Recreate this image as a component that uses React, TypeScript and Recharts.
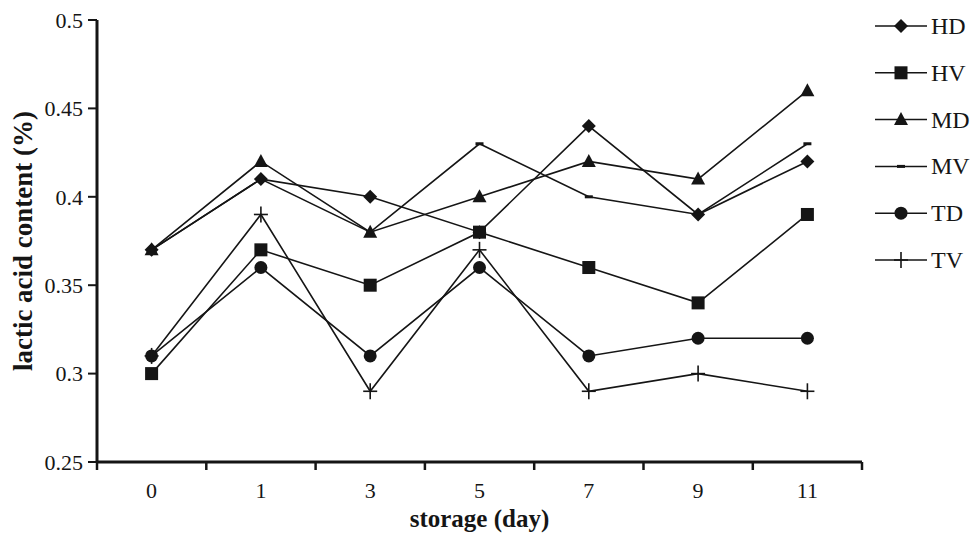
import { LineChart, Line, XAxis, YAxis, Legend } from "recharts";

const days = ["0", "1", "3", "5", "7", "9", "11"];
const hd = [0.37, 0.41, 0.4, 0.38, 0.44, 0.39, 0.42];
const hv = [0.3, 0.37, 0.35, 0.38, 0.36, 0.34, 0.39];
const md = [0.37, 0.42, 0.38, 0.4, 0.42, 0.41, 0.46];
const mv = [0.37, 0.41, 0.38, 0.43, 0.4, 0.39, 0.43];
const td = [0.31, 0.36, 0.31, 0.36, 0.31, 0.32, 0.32];
const tv = [0.31, 0.39, 0.29, 0.37, 0.29, 0.3, 0.29];
const yTicks = [0.25, 0.3, 0.35, 0.4, 0.45, 0.5];

const series = [
  { key: "HD", values: hd, shape: "diamond" },
  { key: "HV", values: hv, shape: "square" },
  { key: "MD", values: md, shape: "triangle" },
  { key: "MV", values: mv, shape: "dash" },
  { key: "TD", values: td, shape: "circle" },
  { key: "TV", values: tv, shape: "plus" },
];

const data = days.map((day, i) => {
  const row: Record<string, string | number> = { day };
  series.forEach((s) => (row[s.key] = s.values[i]));
  return row;
});

const INK = "#151515";
const FONT = "'Liberation Serif', 'Times New Roman', serif";
const PAD = 54.6; // half of a category slot

function Marker({ shape, cx, cy }: { shape: string; cx: number; cy: number }) {
  switch (shape) {
    case "diamond":
      return <polygon points={`${cx},${cy - 7} ${cx + 7},${cy} ${cx},${cy + 7} ${cx - 7},${cy}`} fill={INK} />;
    case "square":
      return <rect x={cx - 6.5} y={cy - 6.5} width={13} height={13} fill={INK} />;
    case "triangle":
      return <polygon points={`${cx},${cy - 7.5} ${cx + 7},${cy + 5.5} ${cx - 7},${cy + 5.5}`} fill={INK} />;
    case "dash":
      return <rect x={cx - 4} y={cy - 1.5} width={8} height={3} fill={INK} />;
    case "circle":
      return <circle cx={cx} cy={cy} r={6.5} fill={INK} />;
    default:
      return (
        <g stroke={INK} strokeWidth={1.6}>
          <line x1={cx - 7} x2={cx + 7} y1={cy} y2={cy} />
          <line x1={cx} x2={cx} y1={cy - 8} y2={cy + 8} />
        </g>
      );
  }
}

function DayTick(props: any) {
  const { x, y, payload, index } = props;
  const last = index === days.length - 1;
  return (
    <g>
      <line x1={x - PAD} x2={x - PAD} y1={y} y2={y + 8} stroke={INK} strokeWidth={2.5} />
      {last && <line x1={x + PAD} x2={x + PAD} y1={y} y2={y + 8} stroke={INK} strokeWidth={2.5} />}
      <text x={x} y={y + 36} textAnchor="middle" fontSize={22} fontFamily={FONT} fill={INK}>
        {payload.value}
      </text>
    </g>
  );
}

function LegendBox() {
  return (
    <svg width={103} height={290}>
      {series.map((s, i) => {
        const cy = 26 + i * 46.8;
        return (
          <g key={s.key}>
            <line x1={5} x2={57} y1={cy} y2={cy} stroke={INK} strokeWidth={1.5} />
            <Marker shape={s.shape} cx={31} cy={cy} />
            <text x={61} y={cy + 8} fontSize={24} fontFamily={FONT} fill={INK}>
              {s.key}
            </text>
          </g>
        );
      })}
    </svg>
  );
}

export default function App() {
  return (
    <div style={{ position: "absolute", left: 0, top: 0, background: "#fff" }}>
      <LineChart width={973} height={533} data={data} margin={{ top: 20, right: 111, bottom: 0, left: 0 }}>
        <XAxis
          dataKey="day"
          height={71}
          padding={{ left: PAD, right: PAD }}
          axisLine={{ stroke: INK, strokeWidth: 3 }}
          tickLine={false}
          tickSize={0}
          tickMargin={0}
          tick={<DayTick />}
          interval={0}
          label={{
            value: "storage (day)",
            position: "insideBottom",
            offset: 6,
            style: { fontSize: 25, fontWeight: "bold", fontFamily: FONT, fill: INK },
          }}
        />
        <YAxis
          width={97}
          domain={[0.25, 0.5]}
          ticks={yTicks}
          axisLine={{ stroke: INK, strokeWidth: 3 }}
          tickLine={{ stroke: INK, strokeWidth: 2 }}
          tickSize={9}
          tickMargin={5}
          tick={{ fontSize: 22, fontFamily: FONT, fill: INK }}
          label={{
            value: "lactic acid content (%)",
            angle: -90,
            position: "center",
            dx: -26,
            style: { fontSize: 27, fontWeight: "bold", fontFamily: FONT, fill: INK, textAnchor: "middle" },
          }}
        />
        <Legend
          layout="vertical"
          align="center"
          verticalAlign="middle"
          wrapperStyle={{ left: 870, top: 0, width: 103 }}
          content={() => <LegendBox />}
        />
        {series.map((s) => (
          <Line
            key={s.key}
            dataKey={s.key}
            stroke={INK}
            strokeWidth={1.6}
            isAnimationActive={false}
            dot={(p: any) => <Marker key={`${s.key}-${p.index}`} shape={s.shape} cx={p.cx} cy={p.cy} />}
            activeDot={false}
          />
        ))}
      </LineChart>
    </div>
  );
}
